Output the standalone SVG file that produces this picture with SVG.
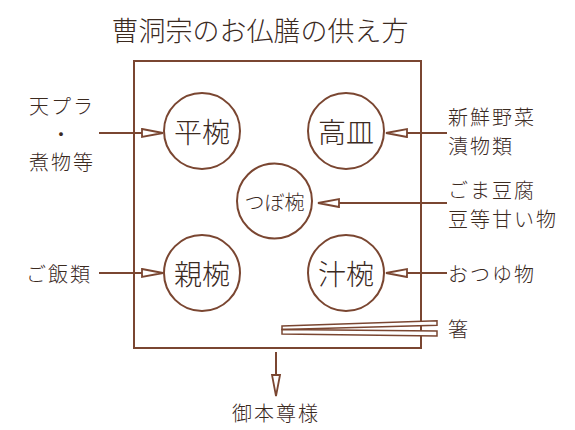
<svg xmlns="http://www.w3.org/2000/svg" width="575" height="430" viewBox="0 0 575 430">
<defs>
<style>
.ln{stroke:#7a4631;stroke-width:2;fill:none}
.st{stroke:#7a4631;stroke-width:1.5;fill:#fff}
.c{stroke:#7a4631;stroke-width:2;fill:#fff}
text{font-family:"Noto Sans CJK JP","Noto Sans CJK SC",sans-serif;fill:#3b2a1f;font-weight:300}
.big{font-size:28px;text-anchor:middle;dominant-baseline:central}
.lab{font-size:20px;letter-spacing:2px;dominant-baseline:central}
</style>
<marker id="ah" markerWidth="24" markerHeight="12" refX="22" refY="6" orient="auto" markerUnits="userSpaceOnUse">
<path d="M1,2 L22,6 L1,10 Z" fill="#fff" stroke="#7a4631" stroke-width="1.8"/>
</marker>
</defs>
<rect width="575" height="430" fill="#fff"/>
<text x="260" y="29" style="font-size:27px;text-anchor:middle;dominant-baseline:central">曹洞宗のお仏膳の供え方</text>
<g id="tray"><rect x="134" y="61" width="287" height="287" class="ln"/></g>
<g id="connectors">
<line x1="99" y1="133" x2="163" y2="133" class="ln" marker-end="url(#ah)"/>
<line x1="99" y1="273" x2="163" y2="273" class="ln" marker-end="url(#ah)"/>
<line x1="447" y1="133" x2="386" y2="133" class="ln" marker-end="url(#ah)"/>
<line x1="447" y1="203" x2="318" y2="203" class="ln" marker-end="url(#ah)"/>
<line x1="447" y1="273" x2="386" y2="273" class="ln" marker-end="url(#ah)"/>
<line x1="276" y1="352" x2="276" y2="396" class="ln" marker-end="url(#ah)"/>
</g>
<g id="hira"><circle cx="202" cy="131" r="38" class="c"/><text x="202" y="131" class="big">平椀</text></g>
<g id="takazara"><circle cx="346" cy="131" r="38" class="c"/><text x="346" y="131" class="big">高皿</text></g>
<g id="tsubo"><circle cx="274.5" cy="201" r="37.5" class="c"/><text x="274.5" y="201" style="font-size:20px;text-anchor:middle;dominant-baseline:central">つぼ椀</text></g>
<g id="oya"><circle cx="202" cy="273" r="38" class="c"/><text x="202" y="273" class="big">親椀</text></g>
<g id="shiru"><circle cx="346" cy="273" r="38" class="c"/><text x="346" y="273" class="big">汁椀</text></g>
<g id="hashi">
<polygon points="282,326 437,320.7 437,325.3 282,329.5" class="st"/>
<polygon points="282,329.5 437,331 437,336 282,334" class="st"/>
</g>
<g id="labels">
<text x="62" y="105" class="lab" style="text-anchor:middle">天プラ</text>
<text x="62" y="133" class="lab" style="text-anchor:middle">・</text>
<text x="62" y="161" class="lab" style="text-anchor:middle">煮物等</text>
<text x="26" y="273" class="lab">ご飯類</text>
<text x="448" y="116" class="lab">新鮮野菜</text>
<text x="448" y="145" class="lab">漬物類</text>
<text x="448" y="189" class="lab">ごま豆腐</text>
<text x="448" y="218" class="lab">豆等甘い物</text>
<text x="448" y="273" class="lab">おつゆ物</text>
<text x="448" y="328" class="lab">箸</text>
<text x="232" y="412" class="lab">御本尊様</text>
</g>
</svg>
